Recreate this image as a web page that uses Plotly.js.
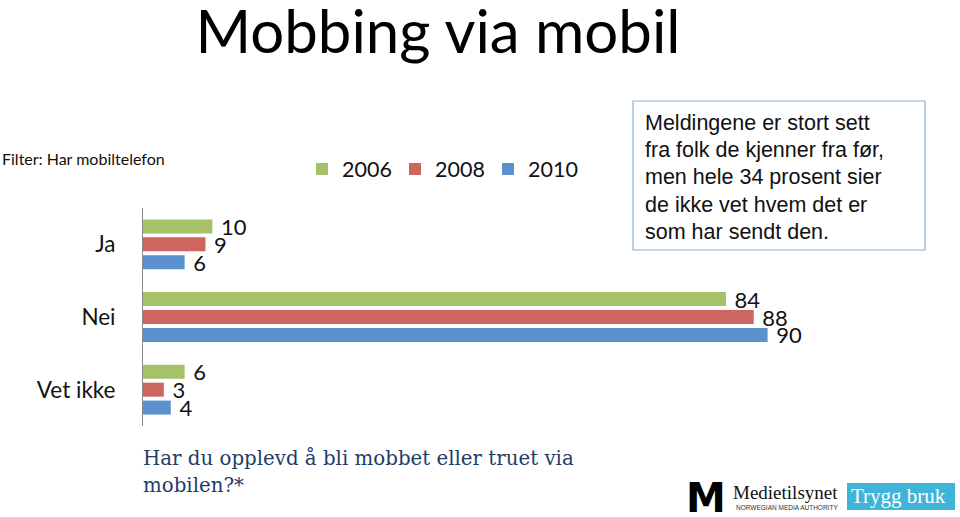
<!DOCTYPE html>
<html>
<head>
<meta charset="utf-8">
<script src="https://cdn.plot.ly/plotly-3.0.1.min.js"></script>
<style>html,body{margin:0;padding:0;background:#fff;}#chart{width:960px;height:517px;}</style>
</head>
<body>
<div id="chart"></div>
<script>
var categories = ['Ja', 'Nei', 'Vet ikke'];
var seriesNames = ['2006', '2008', '2010'];
var values2006 = [10, 84, 6];
var values2008 = [9, 88, 3];
var values2010 = [6, 90, 4];
var seriesColors = ['#a5c26a', '#cd665e', '#5b92cd'];
var chartTitle = 'Mobbing via mobil';
var filterText = 'Filter: Har mobiltelefon';
var boxLines = ['Meldingene er stort sett', 'fra folk de kjenner fra før,', 'men hele 34 prosent sier', 'de ikke vet hvem det er', 'som har sendt den.'];
var questionLines = ['Har du opplevd å bli mobbet eller truet via', 'mobilen?*'];

// plot area in pixels
var L = 143, R = 837, T = 208, B = 426;
function px(X) { return (X - L) / (R - L); }
function py(Y) { return (B - Y) / (B - T); }

var allValues = [values2006, values2008, values2010];
var traces = allValues.map(function (vals, i) {
  return {
    type: 'bar', orientation: 'h',
    name: seriesNames[i],
    y: categories, x: vals,
    marker: { color: seriesColors[i] },
    text: vals.map(function (v) { return '\u00a0' + v; }),
    textposition: 'outside',
    constraintext: 'none',
    cliponaxis: false,
    textfont: { family: 'Lato', size: 22, color: '#111' },
    hoverinfo: 'x+name'
  };
});

var ann = [];
ann.push({ xref: 'paper', yref: 'paper', x: px(0), y: py(159), xanchor: 'left', yanchor: 'middle',
  text: filterText, showarrow: false, font: { family: 'Lato', size: 16, color: '#111' } });
var boxY = [123, 150, 177, 205, 232];
boxLines.forEach(function (t, i) {
  ann.push({ xref: 'paper', yref: 'paper', x: px(643), y: py(boxY[i]), xanchor: 'left', yanchor: 'middle',
    text: t, showarrow: false, font: { family: 'Liberation Sans', size: 21.5, color: '#111' } });
});
var qY = [458, 485];
questionLines.forEach(function (t, i) {
  ann.push({ xref: 'paper', yref: 'paper', x: px(141), y: py(qY[i]), xanchor: 'left', yanchor: 'middle',
    text: t, showarrow: false, font: { family: 'DejaVu Serif', size: 19.8, color: '#1f3d66' } });
});
// logos
ann.push({ xref: 'paper', yref: 'paper', x: px(706), y: py(498), xanchor: 'center', yanchor: 'middle',
  text: '<b>M</b>', showarrow: false, font: { family: 'DejaVu Sans', size: 40, color: '#000' } });
ann.push({ xref: 'paper', yref: 'paper', x: px(731), y: py(492), xanchor: 'left', yanchor: 'middle',
  text: 'Medietilsynet', showarrow: false, font: { family: 'Liberation Serif', size: 19, color: '#111' } });
ann.push({ xref: 'paper', yref: 'paper', x: px(734), y: py(507), xanchor: 'left', yanchor: 'middle',
  text: 'NORWEGIAN MEDIA AUTHORITY', showarrow: false, font: { family: 'Liberation Sans', size: 6.5, color: '#333' } });
ann.push({ xref: 'paper', yref: 'paper', x: px(898), y: py(496), xanchor: 'center', yanchor: 'middle',
  text: 'Trygg bruk', showarrow: false, font: { family: 'Liberation Serif', size: 21, color: '#fff' } });

var shapes = [
  { type: 'rect', xref: 'paper', yref: 'paper', x0: px(633), x1: px(925), y0: py(250), y1: py(101),
    line: { color: '#8fb0d8', width: 1.2 }, fillcolor: 'rgba(0,0,0,0)' },
  { type: 'rect', xref: 'paper', yref: 'paper', x0: px(847), x1: px(955), y0: py(510), y1: py(483),
    line: { width: 0 }, fillcolor: '#3fb4d8' }
];

var layout = {
  width: 960, height: 517,
  margin: { l: L, r: 960 - R, t: T, b: 517 - B, pad: 0 },
  paper_bgcolor: '#fff', plot_bgcolor: '#fff',
  barmode: 'group', bargap: 0.26, bargroupgap: 0.22,
  title: { text: chartTitle, x: 438 / 960, xanchor: 'center', y: 1 - 32 / 517, yanchor: 'middle',
    font: { family: 'Lato', size: 60, color: '#000' } },
  xaxis: { range: [0, 100], visible: false, fixedrange: true },
  yaxis: { type: 'category', autorange: 'reversed', showline: true, linecolor: '#8a8a8a', linewidth: 1,
    showgrid: false, zeroline: false, ticks: '', ticklabelstandoff: 22,
    tickfont: { family: 'Lato', size: 22.5, color: '#111' }, fixedrange: true },
  showlegend: true,
  legend: { orientation: 'h', x: px(302), y: py(169), xanchor: 'left', yanchor: 'middle',
    traceorder: 'normal', font: { family: 'Lato', size: 21.5, color: '#111' }, entrywidth: 48 },
  annotations: ann,
  shapes: shapes
};

Plotly.newPlot('chart', traces, layout, { displayModeBar: false, staticPlot: true });
</script>
</body>
</html>
